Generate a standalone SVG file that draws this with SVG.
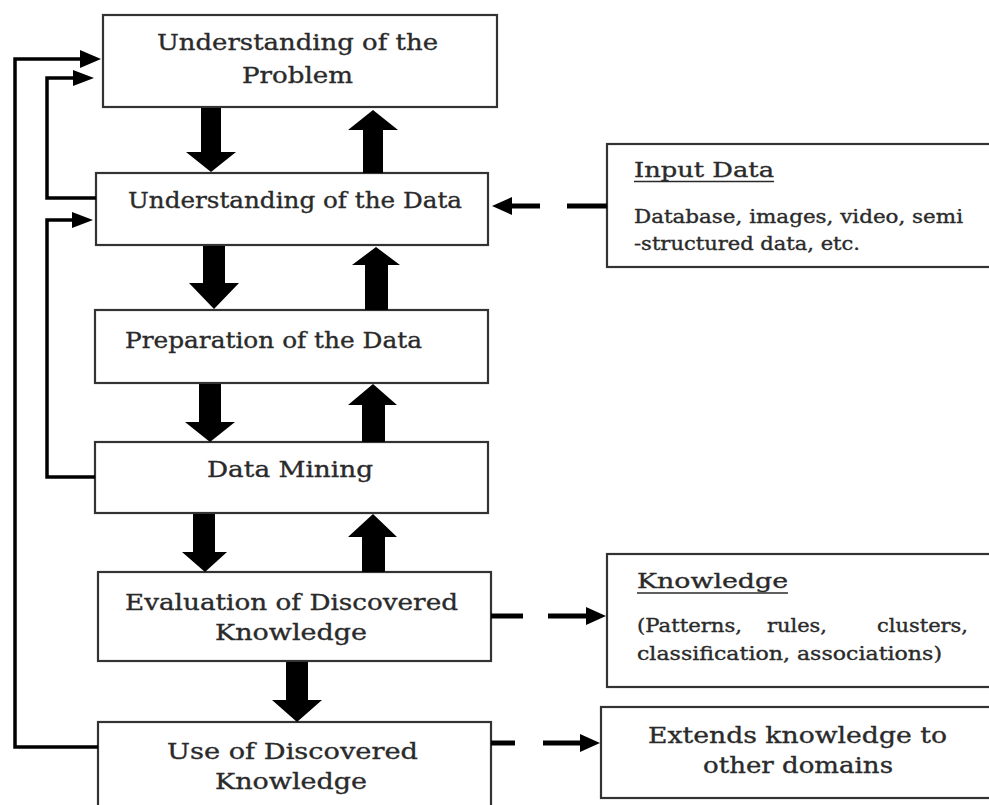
<svg xmlns="http://www.w3.org/2000/svg" width="989" height="805" viewBox="0 0 989 805">
  <style>
    .box { fill: #ffffff; stroke: #333333; stroke-width: 2.2; }
    .t { font-family: "DejaVu Serif", "Liberation Serif", serif; fill: #2a2a2a; stroke: #2a2a2a; stroke-width: 0.35; }
    .main { font-size: 23px; }
    .small { font-size: 18px; }
    .head { font-size: 20px; }
    .ul { stroke: #2a2a2a; stroke-width: 1.6; }
    .block { fill: #000000; }
    .fb { fill: none; stroke: #000000; stroke-width: 3.5; stroke-linejoin: miter; }
    .dash { fill: none; stroke: #000000; stroke-width: 5; }
    .head-tri { fill: #000000; }
  </style>

  <!-- Process steps -->
  <g id="step-problem">
    <rect class="box" x="103" y="15" width="394" height="92"/>
    <text class="t main" x="157" y="50" textLength="281" lengthAdjust="spacingAndGlyphs">Understanding of the</text>
    <text class="t main" x="242" y="83" textLength="111" lengthAdjust="spacingAndGlyphs">Problem</text>
  </g>
  <g id="step-data">
    <rect class="box" x="96" y="173" width="392" height="72"/>
    <text class="t main" x="128" y="208" textLength="334" lengthAdjust="spacingAndGlyphs">Understanding of the Data</text>
  </g>
  <g id="step-preparation">
    <rect class="box" x="95" y="310" width="393" height="73"/>
    <text class="t main" x="125" y="348" textLength="297" lengthAdjust="spacingAndGlyphs">Preparation of the Data</text>
  </g>
  <g id="step-mining">
    <rect class="box" x="95" y="442" width="393" height="71"/>
    <text class="t main" x="207" y="477" textLength="166" lengthAdjust="spacingAndGlyphs">Data Mining</text>
  </g>
  <g id="step-evaluation">
    <rect class="box" x="98" y="572" width="393" height="89"/>
    <text class="t main" x="125" y="610" textLength="333" lengthAdjust="spacingAndGlyphs">Evaluation of Discovered</text>
    <text class="t main" x="215" y="640" textLength="152" lengthAdjust="spacingAndGlyphs">Knowledge</text>
  </g>
  <g id="step-use">
    <rect class="box" x="98" y="722" width="393" height="100"/>
    <text class="t main" x="167" y="759" textLength="251" lengthAdjust="spacingAndGlyphs">Use of Discovered</text>
    <text class="t main" x="215" y="789" textLength="152" lengthAdjust="spacingAndGlyphs">Knowledge</text>
  </g>

  <!-- Side panels -->
  <g id="input-data">
    <rect class="box" x="607" y="144" width="400" height="123"/>
    <text class="t head" x="634" y="177" textLength="140" lengthAdjust="spacingAndGlyphs">Input Data</text>
    <line class="ul" x1="634" y1="181.5" x2="774" y2="181.5"/>
    <text class="t small" x="634" y="223" textLength="329" lengthAdjust="spacingAndGlyphs">Database, images, video, semi</text>
    <text class="t small" x="634" y="250" textLength="226" lengthAdjust="spacingAndGlyphs">-structured data, etc.</text>
  </g>
  <g id="knowledge">
    <rect class="box" x="607" y="554" width="400" height="133"/>
    <text class="t head" x="637" y="588" textLength="151" lengthAdjust="spacingAndGlyphs">Knowledge</text>
    <line class="ul" x1="637" y1="593" x2="788" y2="593"/>
    <text class="t small" x="637" y="632" textLength="105" lengthAdjust="spacingAndGlyphs">(Patterns,</text>
    <text class="t small" x="767" y="632" textLength="60" lengthAdjust="spacingAndGlyphs">rules,</text>
    <text class="t small" x="877" y="632" textLength="91" lengthAdjust="spacingAndGlyphs">clusters,</text>
    <text class="t small" x="637" y="660" textLength="305" lengthAdjust="spacingAndGlyphs">classification, associations)</text>
  </g>
  <g id="extends">
    <rect class="box" x="601" y="707" width="406" height="91"/>
    <text class="t main" x="648" y="743" textLength="299" lengthAdjust="spacingAndGlyphs">Extends knowledge to</text>
    <text class="t main" x="703" y="773" textLength="190" lengthAdjust="spacingAndGlyphs">other domains</text>
  </g>

  <!-- Connectors -->
  <g id="connectors">
    <!-- forward (down) block arrows -->
    <polygon class="block" points="201,108 221,108 221,152 236,152 211,172 186,152 201,152"/>
    <polygon class="block" points="203,246 225,246 225,283 239,283 214,309 189,283 203,283"/>
    <polygon class="block" points="199,384 221,384 221,422 235,422 210,442 185,422 199,422"/>
    <polygon class="block" points="193,514 215,514 215,552 227,552 205,572 182,552 193,552"/>
    <polygon class="block" points="286,662 308,662 308,700 322,700 297,722 272,700 286,700"/>

    <!-- backward (up) block arrows -->
    <polygon class="block" points="363,173 383,173 383,130 398,130 373,110 348,130 363,130"/>
    <polygon class="block" points="365,310 388,310 388,265 400,265 376,247 352,265 365,265"/>
    <polygon class="block" points="362,442 385,442 385,405 397,405 373,384 348,405 362,405"/>
    <polygon class="block" points="362,572 385,572 385,537 397,537 373,514 348,537 362,537"/>

    <!-- feedback loops on the left -->
    <path class="fb" d="M98,747 H15 V59 H82"/>
    <polygon class="head-tri" points="80,50 101,59 80,68"/>
    <path class="fb" d="M96,198 H47 V78 H75"/>
    <polygon class="head-tri" points="73,70 94,78 73,86"/>
    <path class="fb" d="M95,477 H47 V220 H74"/>
    <polygon class="head-tri" points="72,212 93,220 72,228"/>

    <!-- dashed links to the side panels -->
    <line class="dash" x1="567" y1="206" x2="607" y2="206"/>
    <line class="dash" x1="540" y1="206" x2="510" y2="206"/>
    <polygon class="head-tri" points="512,197 492,206 512,215"/>

    <line class="dash" x1="491" y1="616" x2="523" y2="616"/>
    <line class="dash" x1="548" y1="616" x2="590" y2="616"/>
    <polygon class="head-tri" points="586,607 606,616 586,625"/>

    <line class="dash" x1="491" y1="743" x2="515" y2="743"/>
    <line class="dash" x1="543" y1="743" x2="584" y2="743"/>
    <polygon class="head-tri" points="580,734 600,743 580,752"/>
  </g>
</svg>
